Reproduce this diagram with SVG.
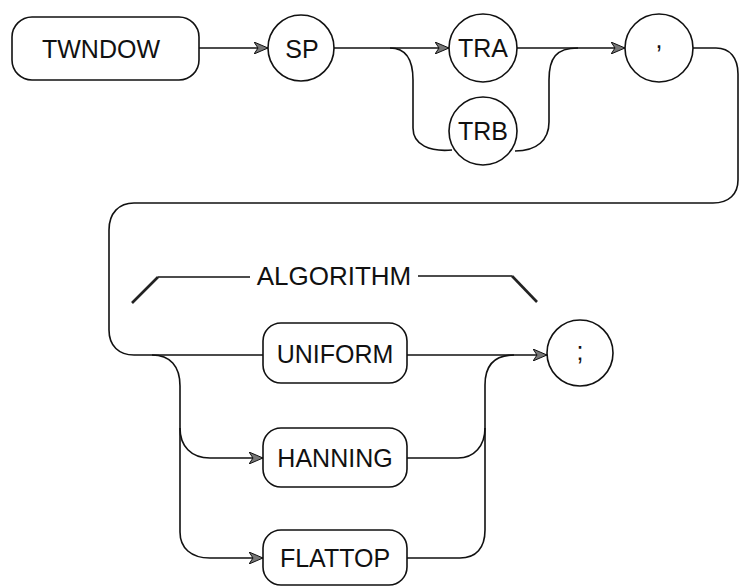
<svg xmlns="http://www.w3.org/2000/svg" width="740" height="586" viewBox="0 0 740 586">
<defs>
<style>
.shape{fill:none;stroke:#111;stroke-width:1.6}
.line{fill:none;stroke:#111;stroke-width:1.6}
.thick{fill:none;stroke:#222;stroke-width:2.6}
text{font-family:"Liberation Sans",Arial,sans-serif;font-size:25px;fill:#111;text-anchor:middle}
</style>
<marker id="arr" viewBox="0 0 14 12" refX="14" refY="6" markerWidth="14" markerHeight="12" markerUnits="userSpaceOnUse" orient="auto">
<path d="M0,0 L14,6 L0,12 L4,6 Z" fill="#777" stroke="#111" stroke-width="1"/>
</marker>
</defs>
<rect width="740" height="586" fill="#fff"/>
<g id="connectors">
<path class="line" d="M199,48 H268" marker-end="url(#arr)"/>
<path class="line" d="M334,48 H449" marker-end="url(#arr)"/>
<path class="line" d="M390,48 C406,48 413,60 413,80 V128 C413,145 430,152 452,150"/>
<path class="line" d="M517,48 H625" marker-end="url(#arr)"/>
<path class="line" d="M515,151 C537,151 549,140 549,122 V80 C549,58 556,48 578,48"/>
<path class="line" d="M693,48 H716 C730,48 738,58 738,74 V180 C738,194 729,203 713,203 H134 C119,203 109,213 109,230 V330 C109,346 119,355 134,355 H263"/>
<path class="line" d="M407,355 H547" marker-end="url(#arr)"/>
<path class="line" d="M152,355 C170,355 180,366 180,386 V532 C180,548 191,558 210,558 H263" marker-end="url(#arr)"/>
<path class="line" d="M180,428 C180,446 191,458 210,458 H263" marker-end="url(#arr)"/>
<path class="line" d="M407,458 H458 C474,458 485,446 485,428"/>
<path class="line" d="M407,558 H460 C476,558 485,548 485,530 V385 C485,366 494,355 514,355"/>
<path class="thick" d="M132,303 L158,277"/>
<path class="line" d="M158,277 H250"/>
<path class="line" d="M418,276 H512"/>
<path class="thick" d="M512,276 L537,302"/>
</g>
<g id="twndow"><rect class="shape" x="12" y="17" width="187" height="63" rx="20"/><text x="101" y="58">TWNDOW</text></g>
<g id="sp"><circle class="shape" cx="301" cy="48" r="33"/><text x="302" y="58">SP</text></g>
<g id="tra"><circle class="shape" cx="483" cy="48" r="34"/><text x="483" y="57">TRA</text></g>
<g id="trb"><circle class="shape" cx="483" cy="131" r="34"/><text x="483" y="140">TRB</text></g>
<g id="comma"><circle class="shape" cx="659" cy="48" r="34"/><text x="659" y="48">,</text></g>
<g id="algorithm"><text x="334" y="285" style="font-size:26px">ALGORITHM</text></g>
<g id="uniform"><rect class="shape" x="263" y="323" width="144" height="60" rx="18"/><text x="335" y="363">UNIFORM</text></g>
<g id="hanning"><rect class="shape" x="263" y="428" width="144" height="59" rx="18"/><text x="335" y="467">HANNING</text></g>
<g id="flattop"><rect class="shape" x="263" y="530" width="144" height="55" rx="18"/><text x="335" y="567">FLATTOP</text></g>
<g id="semicolon"><circle class="shape" cx="580" cy="353" r="33"/><text x="580" y="360">;</text></g>
</svg>
